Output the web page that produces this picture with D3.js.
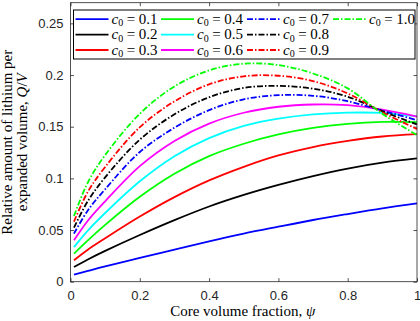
<!DOCTYPE html>
<html><head><meta charset="utf-8">
<script src="https://cdn.jsdelivr.net/npm/d3@7"></script>
<style>body{margin:0;background:#fff}svg{display:block}</style>
</head><body><svg id="chart" width="420" height="321"></svg>
<script>
// ---- data ----
const psi = [0.01, 0.05, 0.1, 0.2, 0.3, 0.4, 0.5, 0.6, 0.7, 0.8, 0.9, 1.0];
const c0Labels = ["0.1","0.2","0.3","0.4","0.5","0.6","0.7","0.8","0.9","1.0"];
const q_c01 = [0.0068,0.0104,0.0148,0.0230,0.0310,0.0390,0.0465,0.0532,0.0597,0.0655,0.0710,0.0758];
const q_c02 = [0.0142,0.0215,0.0298,0.0452,0.0596,0.0728,0.0840,0.0937,0.1022,0.1095,0.1152,0.1193];
const q_c03 = [0.0208,0.0310,0.0420,0.0630,0.0818,0.0980,0.1112,0.1222,0.1303,0.1362,0.1405,0.1428];
const q_c04 = [0.0271,0.0400,0.0550,0.0822,0.1045,0.1215,0.1335,0.1425,0.1488,0.1527,0.1546,0.1545];
const q_c05 = [0.0335,0.0495,0.0665,0.0972,0.1215,0.1390,0.1508,0.1578,0.1619,0.1636,0.1633,0.1600];
const q_c06 = [0.0400,0.0590,0.0778,0.1118,0.1362,0.1530,0.1635,0.1693,0.1715,0.1708,0.1665,0.1598];
const q_c07 = [0.0465,0.0690,0.0895,0.1255,0.1490,0.1660,0.1765,0.1805,0.1799,0.1747,0.1655,0.1564];
const q_c08 = [0.0523,0.0780,0.1010,0.1375,0.1620,0.1785,0.1875,0.1895,0.1868,0.1790,0.1650,0.1522];
const q_c09 = [0.0581,0.0870,0.1110,0.1495,0.1745,0.1910,0.1988,0.1993,0.1941,0.1822,0.1640,0.1477];
const q_c10 = [0.0636,0.0960,0.1225,0.1625,0.1890,0.2045,0.2110,0.2096,0.2015,0.1871,0.1625,0.1419];
const seriesValues = [q_c01,q_c02,q_c03,q_c04,q_c05,q_c06,q_c07,q_c08,q_c09,q_c10];
const xTicks = [0, 0.2, 0.4, 0.6, 0.8, 1];
const yTicks = [0, 0.05, 0.1, 0.15, 0.2, 0.25];

// ---- styles ----
const colors = ["#0000ff","#000000","#ff0000","#00ff00","#00ffff","#ff00ff","#0000ff","#000000","#ff0000","#00ff00"];
const dashed = [false,false,false,false,false,false,true,true,true,true];
const dashPattern = "6,2,1.5,2";

const svg = d3.select("#chart");
const L = 70.5, R = 417, T = 2.7, B = 281.7;
const x = d3.scaleLinear().domain([0,1]).range([L,R]);
const y = d3.scaleLinear().domain([0,0.27]).range([B,T]);
const axisColor = "#262626";
const tickFont = "'Liberation Sans', Arial, sans-serif";
const serif = "'Liberation Serif', 'Times New Roman', serif";

// axes
const gx = svg.append("g").attr("transform",`translate(0,${B})`)
  .call(d3.axisBottom(x).tickValues(xTicks).tickFormat(d3.format("")).tickSizeInner(-3.5).tickSizeOuter(0).tickPadding(9));
const gxt = svg.append("g").attr("transform",`translate(0,${T})`)
  .call(d3.axisTop(x).tickValues(xTicks).tickFormat("").tickSizeInner(-3.5).tickSizeOuter(0));
const gy = svg.append("g").attr("transform",`translate(${L},0)`)
  .call(d3.axisLeft(y).tickValues(yTicks).tickFormat(d3.format("")).tickSizeInner(-3.5).tickSizeOuter(0).tickPadding(7));
const gyr = svg.append("g").attr("transform",`translate(${R},0)`)
  .call(d3.axisRight(y).tickValues(yTicks).tickFormat("").tickSizeInner(-3.5).tickSizeOuter(0));
[gx,gxt,gy,gyr].forEach(g=>{
  g.select(".domain").remove();
  g.selectAll(".tick line").attr("stroke",axisColor).attr("stroke-width",0.8);
  g.selectAll(".tick text").attr("fill",axisColor).style("font-family",tickFont).style("font-size","13px");
});

// curves
const line = d3.line().x(d=>x(d[0])).y(d=>y(d[1])).curve(d3.curveCatmullRom.alpha(0.5));
seriesValues.forEach((vals,i)=>{
  svg.append("path")
    .datum(psi.map((p,j)=>[p,vals[j]]))
    .attr("d",line)
    .attr("fill","none")
    .attr("stroke",colors[i])
    .attr("stroke-width",1.8)
    .attr("stroke-dasharray",dashed[i]?dashPattern:null);
});

// box
svg.append("rect").attr("x",L).attr("y",T).attr("width",R-L).attr("height",B-T)
  .attr("fill","none").attr("stroke",axisColor).attr("stroke-width",0.8);

// axis labels
svg.append("text").attr("x",(L+R)/2-1).attr("y",316).attr("text-anchor","middle")
  .style("font-family",serif).style("font-size","15px").attr("fill","#000")
  .text("Core volume fraction, ").append("tspan").style("font-style","italic").text("ψ");
const yl = svg.append("g").attr("transform",`translate(0,${(T+B)/2}) rotate(-90)`);
yl.append("text").attr("x",0).attr("y",12).attr("text-anchor","middle")
  .style("font-family",serif).style("font-size","15px").text("Relative amount of lithium per");
const yl2 = yl.append("text").attr("x",0).attr("y",27).attr("text-anchor","middle")
  .style("font-family",serif).style("font-size","15px");
yl2.append("tspan").text("expanded volume, ");
yl2.append("tspan").style("font-style","italic").text("Q");
yl2.append("tspan").text("/");
yl2.append("tspan").style("font-style","italic").text("V");

// legend
const leg = svg.append("g");
leg.append("rect").attr("x",73.5).attr("y",10).attr("width",341.5).attr("height",49)
  .attr("fill","#fff").attr("stroke","#000").attr("stroke-width",1);
const colX = [75.5, 161, 247, 333];
const rowY = [19.2, 34.6, 50];
c0Labels.forEach((lab,i)=>{
  const col = i<9 ? Math.floor(i/3) : 3;
  const row = i<9 ? i%3 : 0;
  const lx = colX[col], ly = rowY[row];
  leg.append("line").attr("x1",lx).attr("x2",lx+33).attr("y1",ly).attr("y2",ly)
    .attr("stroke",colors[i]).attr("stroke-width",1.8)
    .attr("stroke-dasharray",dashed[i]?dashPattern:null);
  const t = leg.append("text").attr("x",lx+36).attr("y",ly+4.5)
    .style("font-family",serif).style("font-size","13.5px");
  t.append("tspan").style("font-style","italic").style("font-size","15px").text("c");
  t.append("tspan").attr("dy",2.5).style("font-size","10px").text("0");
  t.append("tspan").attr("dy",-2.5).attr("dx",3.5).style("font-size","15px").text("=");
  t.append("tspan").attr("dx",3.5).style("font-size","15px").text(lab);
});
</script>
</body></html>
